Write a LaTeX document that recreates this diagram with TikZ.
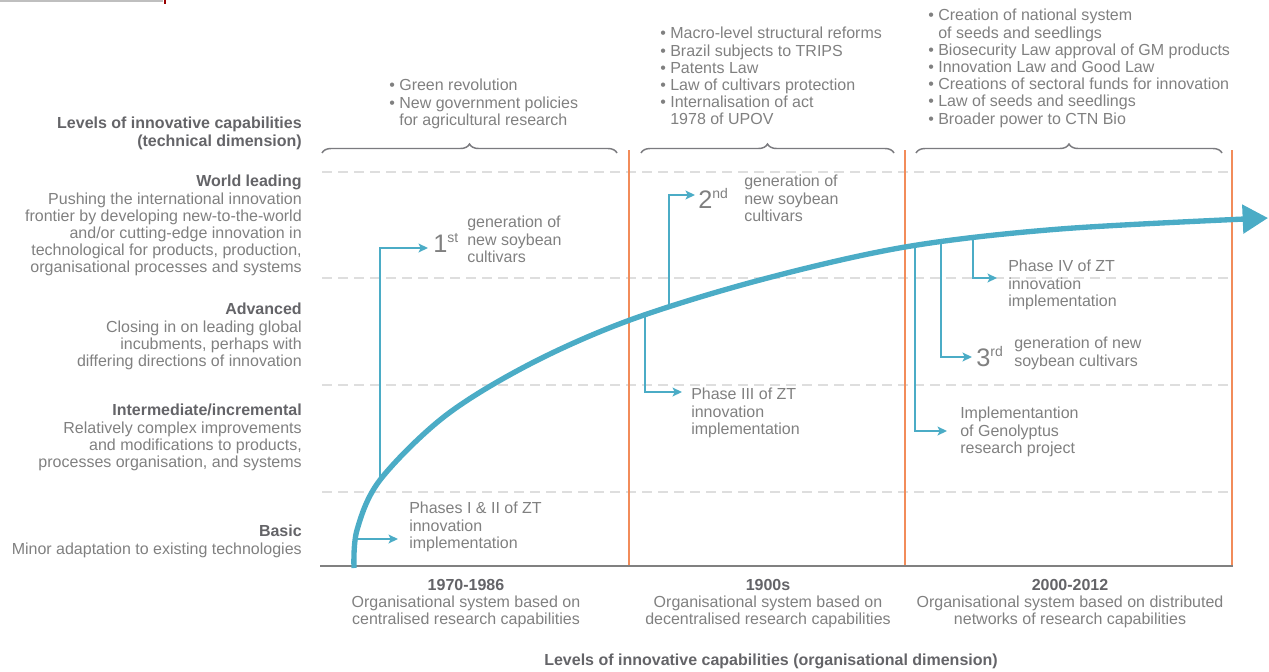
\documentclass[tikz,border=0pt]{standalone}
\usepackage{fontspec}
\setmainfont{Liberation Sans}
\usetikzlibrary{arrows.meta,positioning,decorations.pathreplacing}
\definecolor{trendblue}{RGB}{75,172,198}
\definecolor{eraorange}{RGB}{242,140,90}
\definecolor{txtgray}{RGB}{128,128,128}
\definecolor{headgray}{RGB}{100,100,104}
\definecolor{gridgray}{RGB}{222,222,222}
\newcommand{\lvlhead}[1]{\textcolor{headgray}{\bfseries #1}}
\newcommand{\ordsup}[1]{\raisebox{7.5pt}{\fontsize{10.5}{10.5}\selectfont #1}}

\begin{document}
\begin{tikzpicture}[x=0.75pt,y=-0.75pt]
    \tikzset{level/.style= {anchor=north east, align=right, inner sep=0
    , text=txtgray, font=\fontsize{12}{12.9}\selectfont
      },
    note/.style= {anchor=north west, align=left, inner sep=0
    , text=txtgray, font=\fontsize{12}{12.9}\selectfont
      },
    era/.style= {anchor=north, align=center, inner sep=0
    , text=txtgray, font=\fontsize{12}{12.9}\selectfont
      },
    num/.style= {anchor=base west, inner sep=0, text=txtgray
    , font=\fontsize{19}{19}\selectfont
      },
    branch/.style= {trendblue, line width=1.5pt
    , -{Stealth[length=7pt,width=6.5pt,inset=1.5pt]}
      },
    trend/.style= {trendblue, line width=4pt
    , -{Triangle[length=19pt,width=21pt]}
      },
    grid/.style= {gridgray, line width=1.1pt, dash pattern=on 7.5pt off 4.5pt},
    divider/.style= {eraorange, line width=2pt},
    bracket/.style= {headgray!85, line width=1.1pt, decorate
    , decoration={brace, amplitude=6.75pt}
      }
    }

\useasboundingbox (0,0) rectangle (1269,671);
\draw[gray!50, line width=1.5pt] (0,1) -- (163,1);
\draw[red!60!black, line width=1.2pt] (165,0) -- (165,4);

\foreach \y in {172,278,385,492}
  \draw[grid] (322,\y) -- (1230,\y);
\foreach \x in {629,905,1232}
  \draw[divider] (\x,150) -- (\x,566);
\draw[gray, line width=1.5pt] (320,566) -- (1233,566);

\draw[bracket] (322,153) -- (617,153);
\draw[bracket] (641,153) -- (894,153);
\draw[bracket] (916,153) -- (1222,153);

\node[level] (techdim) at (302,117) {\lvlhead{Levels of innovative capabilities}\\\lvlhead{(technical dimension)}};
\node[level] (world) at (302,175) {\lvlhead{World leading}\\Pushing the international innovation\\frontier by developing new-to-the-world\\and/or cutting-edge innovation in\\technological for products, production,\\organisational processes and systems};
\node[level] (advanced) at (302,303) {\lvlhead{Advanced}\\Closing in on leading global\\incubments, perhaps with\\differing directions of innovation};
\node[level] (interm) at (302,404) {\lvlhead{Intermediate/incremental}\\Relatively complex improvements\\and modifications to products,\\processes organisation, and systems};
\node[level] (basic) at (302,525) {\lvlhead{Basic}\\Minor adaptation to existing technologies};

\node[note] (laws1) at (389,79) {\textbullet\ Green revolution\\\textbullet\ New government policies\\\phantom{\textbullet\ }for agricultural research};
\node[note] (laws2) at (660,27) {\textbullet\ Macro-level structural reforms\\\textbullet\ Brazil subjects to TRIPS\\\textbullet\ Patents Law\\\textbullet\ Law of cultivars protection\\\textbullet\ Internalisation of act\\\phantom{\textbullet\ }1978 of UPOV};
\node[note] (laws3) at (928,9) {\textbullet\ Creation of national system\\\phantom{\textbullet\ }of seeds and seedlings\\\textbullet\ Biosecurity Law approval of GM products\\\textbullet\ Innovation Law and Good Law\\\textbullet\ Creations of sectoral funds for innovation\\\textbullet\ Law of seeds and seedlings\\\textbullet\ Broader power to CTN Bio};

\node[era] (era1) at (466,579) {\lvlhead{1970-1986}\\Organisational system based on\\centralised research capabilities};
\node[era] (era2) at (768,579) {\lvlhead{1900s}\\Organisational system based on\\decentralised research capabilities};
\node[era] (era3) at (1070,579) {\lvlhead{2000-2012}\\Organisational system based on distributed\\networks of research capabilities};
\node[era] (orgdim) at (771,654) {\lvlhead{Levels of innovative capabilities (organisational dimension)}};

\node[note] (phase12) at (409,502) {Phases I \& II of ZT\\innovation\\implementation};
\node[num] (gen1num) at (433,252) {1\ordsup{st}};
\node[note] (gen1) at (467,216) {generation of\\new soybean\\cultivars};
\node[note] (phase3) at (691,388) {Phase III of ZT\\innovation\\implementation};
\node[num] (gen2num) at (698,208) {2\ordsup{nd}};
\node[note] (gen2) at (744,175) {generation of\\new soybean\\cultivars};
\node[note] (geno) at (960,407) {Implementantion\\of Genolyptus\\research project};
\node[num] (gen3num) at (976,366) {3\ordsup{rd}};
\node[note] (gen3) at (1014,337) {generation of new\\soybean cultivars};
\node[note] (phase4) at (1008,260) {Phase IV of ZT\\innovation\\implementation};

\coordinate (c12) at (356,539); \coordinate (t12) at (398,539);
\coordinate (c1) at (380,481);  \coordinate (t1) at (428,248);
\coordinate (c3) at (645,315);  \coordinate (t3) at (682,392);
\coordinate (c2) at (669,308);  \coordinate (t2) at (695,195);
\coordinate (cg) at (915,246);  \coordinate (tg) at (947,431);
\coordinate (cr) at (941,243);  \coordinate (tr) at (972,357);
\coordinate (c4) at (973,239);  \coordinate (t4) at (997,278);

 \path[draw, branch] (c12) -- (t12);
 \path[draw, branch] (c1) |- (t1);
 \path[draw, branch] (c3) |- (t3);
 \path[draw, branch] (c2) |- (t2);
 \path[draw, branch] (cg) |- (tg);
 \path[draw, branch] (cr) |- (tr);
 \path[draw, branch] (c4) |- (t4);

\draw[trend] plot[smooth, tension=0.55] coordinates {(354,568) (357,530) (380,480) (445,416) (530,364) (630,320) (760,280) (905,247) (1060,229) (1268,218)};
\end{tikzpicture}
\end{document}
